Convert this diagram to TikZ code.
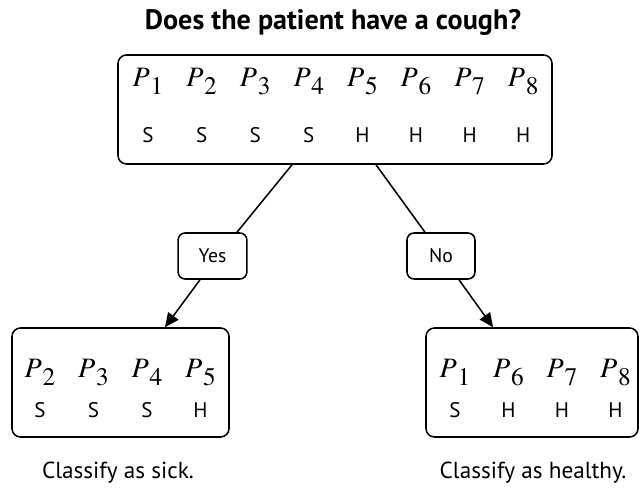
\documentclass[tikz,border=0pt]{standalone}
\usepackage{mathptmx}
\usepackage[no-math]{fontspec}
\setmainfont{PT Sans}
\usepackage{tikz}
\usetikzlibrary{arrows.meta}

% patient label: italic P with a lowered Times digit
\newcommand{\patient}[1]{$P$\kern0.5pt\raisebox{-5.5pt}{\fontsize{18}{18}\selectfont$\mathrm{#1}$}}

\tikzset{
  group/.style={draw,line width=1.1pt,rounded corners=6pt,inner sep=0pt},
  answer/.style={draw,line width=1.1pt,rounded corners=5pt,inner sep=0pt,
    minimum width=1.72cm,minimum height=1.15cm,font=\fontsize{14}{16}\selectfont},
  pid/.style={anchor=base,font=\fontsize{20}{22}\selectfont},
  cls/.style={anchor=base,font=\fontsize{15}{17}\selectfont},
  caption/.style={font=\fontsize{16.5}{19}\selectfont},
  branch/.style={line width=1.1pt},
  leaf/.style={line width=1.1pt,-{Triangle[length=10pt,width=9pt]}},
}

\begin{document}
\begin{tikzpicture}
  \useasboundingbox (0,0) rectangle (16,12.3);

  \node[font=\fontsize{20}{23}\selectfont\bfseries] (question) at (8.325,11.75)
    {Does the patient have a cough?};

  % root: all eight patients
  \node[group,minimum width=10.85cm,minimum height=2.725cm] (root) at (8.375,9.5625) {};
  \foreach \p/\c [count=\i from 0] in {1/S,2/S,3/S,4/S,5/H,6/H,7/H,8/H} {
    \node[pid] (rootp\p) at (3.7+1.34*\i,10.125) {\patient{\p}};
    \node[cls] (roots\p) at (3.7+1.34*\i,8.725) {\c};
  }

  % answers
  \node[answer] (yes) at (5.3125,5.9) {Yes};
  \node[answer,minimum width=1.7cm] (no) at (11.025,5.9) {No};

  % leaves
  \node[group,minimum width=5.425cm,minimum height=2.725cm] (sick) at (3.0125,2.7375) {};
  \foreach \p/\c [count=\i from 0] in {2/S,3/S,4/S,5/H} {
    \node[pid] (sickp\p) at (1.0+1.3375*\i,2.85) {\patient{\p}};
    \node[cls] (sicks\p) at (1.0+1.3375*\i,1.85) {\c};
  }
  \node[group,minimum width=5.3cm,minimum height=2.725cm] (healthy) at (13.3,2.7375) {};
  \foreach \p/\c [count=\i from 0] in {1/S,6/H,7/H,8/H} {
    \node[pid] (healthyp\p) at (11.375+1.3375*\i,2.85) {\patient{\p}};
    \node[cls] (healthys\p) at (11.375+1.3375*\i,1.85) {\c};
  }

  \node[caption] (sicklabel) at (2.95,0.475) {Classify as sick.};
  \node[caption] (healthylabel) at (13.325,0.475) {Classify as healthy.};

  % edges
  \draw[branch] ([xshift=-1.075cm]root.south) -- ([xshift=0.6125cm]yes.north);
  \draw[branch] ([xshift=1.025cm]root.south) -- ([xshift=-0.4cm]no.north);
  \draw[leaf] ([xshift=-0.3125cm]yes.south) -- ([xshift=1.1125cm]sick.north);
  \draw[leaf] ([xshift=0.45cm]no.south) -- ([xshift=-0.975cm]healthy.north);
\end{tikzpicture}
\end{document}
